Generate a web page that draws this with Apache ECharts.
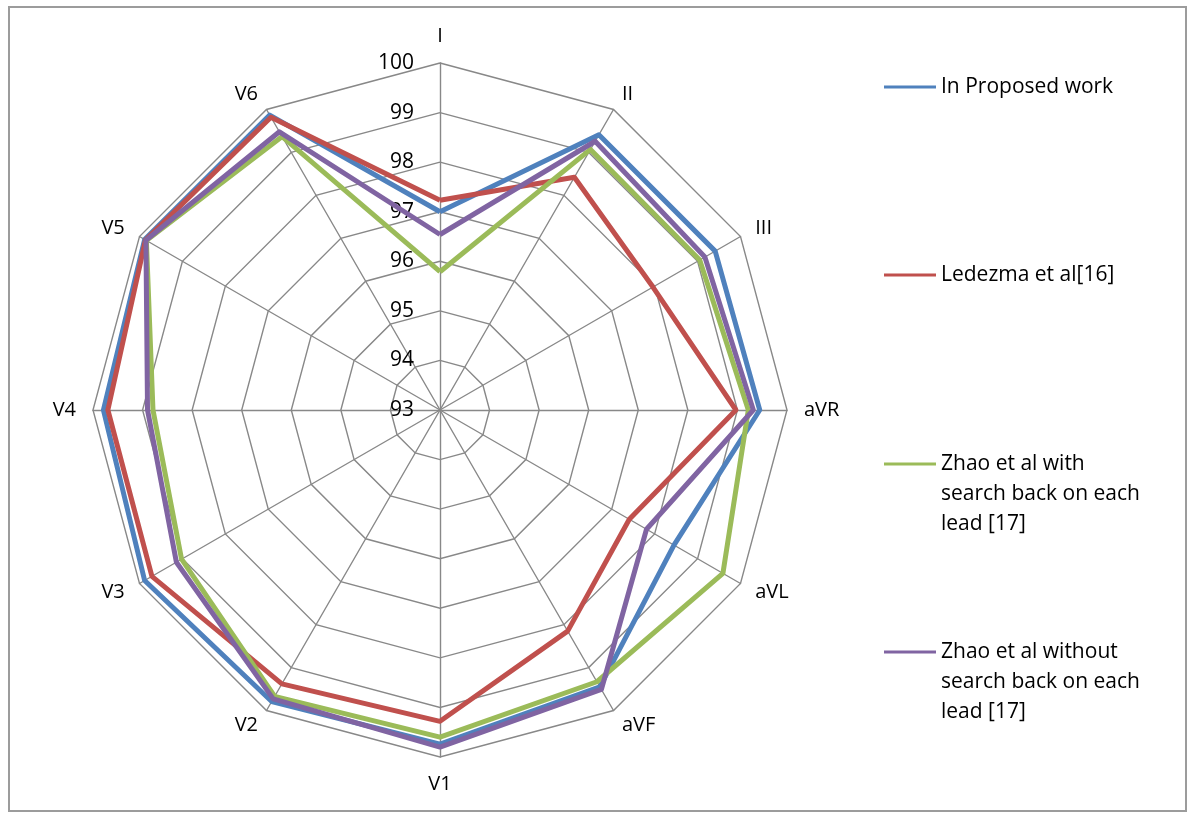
<!DOCTYPE html>
<html>
<head>
<meta charset="utf-8">
<title>Lead-wise detection accuracy</title>
<script src="https://cdn.jsdelivr.net/npm/echarts@6/dist/echarts.min.js"></script>
<style>
html, body { margin: 0; padding: 0; background: #fff; }
#chart { width: 1196px; height: 818px; }
</style>
</head>
<body>
<div id="chart"></div>
<script>
// leads, clockwise from the top
var leads = ['I', 'II', 'III', 'aVR', 'aVL', 'aVF', 'V1', 'V2', 'V3', 'V4', 'V5', 'V6'];

var seriesNames = [
    'In Proposed work',
    'Ledezma et al[16]',
    'Zhao et al with search back on each lead [17]',
    'Zhao et al without search back on each lead [17]'
];
// how the legend wraps the long names
var legendLabels = [
    ['In Proposed work'],
    ['Ledezma et al[16]'],
    ['Zhao et al with', 'search back on each', 'lead [17]'],
    ['Zhao et al without', 'search back on each', 'lead [17]']
];

var proposed    = [97.00, 99.41, 99.41, 99.45, 98.45, 99.45, 99.74, 99.79, 99.88, 99.79, 99.88, 99.87];
var ledezma     = [97.23, 98.42, 97.96, 98.97, 97.41, 98.15, 99.28, 99.38, 99.71, 99.70, 99.86, 99.82];
var zhaoWith    = [95.79, 99.07, 99.05, 99.22, 99.59, 99.33, 99.60, 99.67, 99.02, 98.79, 99.84, 99.37];
var zhaoWithout = [96.54, 99.26, 99.17, 99.32, 97.81, 99.51, 99.80, 99.73, 99.14, 98.90, 99.85, 99.48];

var axisMin = 93;
var axisMax = 100;

var colors = ['#4F81BD', '#C0504D', '#9BBB59', '#8064A2'];
var font = '"Open Sans", "Liberation Sans", sans-serif';

// echarts places radar axes counter-clockwise, the original runs clockwise
function clockwise(arr) {
    return [arr[0]].concat(arr.slice(1).reverse());
}

var chart = echarts.init(document.getElementById('chart'));

var indicators = clockwise(leads).map(function (name, i) {
    var ind = { name: name, min: axisMin, max: axisMax };
    if (i === 0) {
        ind.axisLabel = { show: true };
    }
    return ind;
});

var values = [proposed, ledezma, zhaoWith, zhaoWithout];

// the legend icon sits at the middle of the text block, so blank lines
// are put on top to bring it level with the first line
function legendAt(idx, top) {
    var lines = legendLabels[idx];
    var pad = [];
    for (var k = 1; k < lines.length; k++) pad.push('');
    var text = pad.concat(lines).join('\n');
    return {
        data: [seriesNames[idx]],
        left: 884,
        top: top,
        padding: 0,
        orient: 'vertical',
        icon: 'rect',
        itemWidth: 52,
        itemHeight: 3,
        selectedMode: false,
        formatter: function () { return text; },
        textStyle: {
            fontFamily: font,
            fontSize: 21,
            color: '#000',
            lineHeight: 30
        }
    };
}

var option = {
    animation: false,
    color: colors,
    graphic: [{
        type: 'rect',
        shape: { x: 9, y: 7, width: 1177, height: 804 },
        style: { fill: 'none', stroke: '#9c9c9c', lineWidth: 2 },
        silent: true
    }],
    legend: [
        legendAt(0, 72),
        legendAt(1, 260),
        legendAt(2, 389),
        legendAt(3, 577)
    ],
    radar: {
        center: [440, 410],
        radius: 347,
        startAngle: 90,
        splitNumber: axisMax - axisMin,
        shape: 'polygon',
        indicator: indicators,
        nameGap: 17,
        axisName: {
            color: '#000',
            fontFamily: font,
            fontSize: 20
        },
        axisLabel: {
            show: false,
            color: '#000',
            fontFamily: font,
            fontSize: 21,
            margin: 26
        },
        axisLine: { lineStyle: { color: '#888', width: 1.4 } },
        splitLine: { lineStyle: { color: '#888', width: 1.4 } },
        splitArea: { show: false }
    },
    series: [{
        type: 'radar',
        symbol: 'none',
        lineStyle: { width: 5 },
        data: values.map(function (v, i) {
            return {
                name: seriesNames[i],
                value: clockwise(v),
                lineStyle: { color: colors[i], width: 5 },
                itemStyle: { color: colors[i] }
            };
        })
    }]
};

chart.setOption(option);
</script>
</body>
</html>
